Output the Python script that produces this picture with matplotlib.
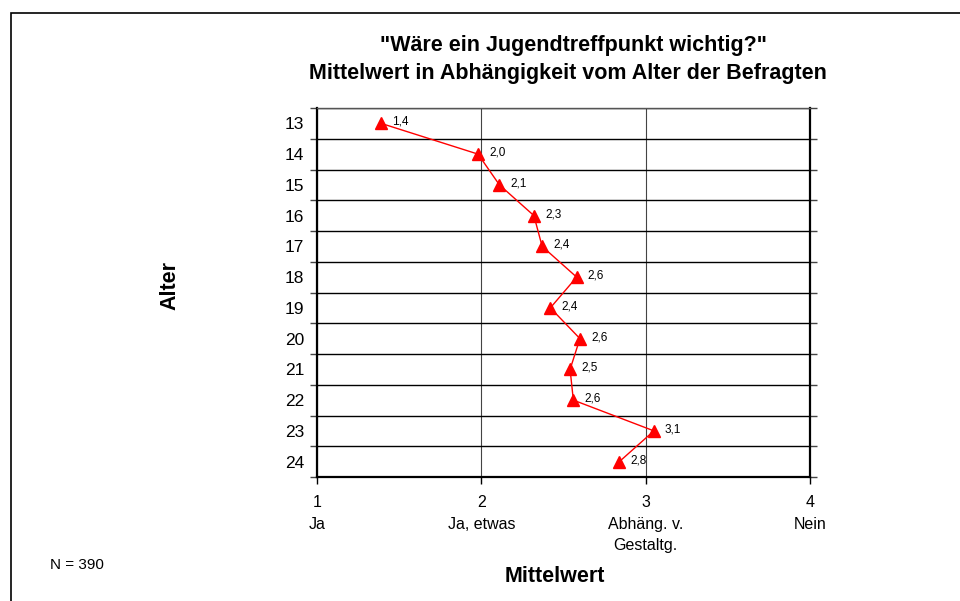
import matplotlib
matplotlib.use("Agg")
import matplotlib.pyplot as plt
from matplotlib.patches import Rectangle
import numpy as np

plt.rcParams['font.family'] = ['Liberation Sans', 'DejaVu Sans']

ages = ["13", "14", "15", "16", "17", "18", "19", "20", "21", "22", "23", "24"]
means = [1.39, 1.98, 2.11, 2.32, 2.37, 2.58, 2.42, 2.60, 2.54, 2.56, 3.05, 2.84]
value_labels = ["1,4", "2,0", "2,1", "2,3", "2,4", "2,6", "2,4", "2,6", "2,5", "2,6", "3,1", "2,8"]
x_ticks = [1, 2, 3, 4]
x_cat_names = ["Ja", "Ja, etwas", "Abhäng. v.\nGestaltg.", "Nein"]

W, H = 960, 601
fig = plt.figure(figsize=(W / 100, H / 100), dpi=100)
ax = fig.add_axes([317 / W, 1 - 477 / H, 493 / W, 369 / H])

y = np.arange(len(ages))
ax.plot(means, y, color="#ff0000", lw=1.0, marker="^", markersize=9,
        markerfacecolor="#ff0000", markeredgecolor="#ff0000", zorder=5, clip_on=False)
for xv, yv, lab in zip(means, y, value_labels):
    ax.annotate(lab, (xv, yv), xytext=(8, 1), textcoords="offset points",
                fontsize=8.5, va="center", ha="left", zorder=6)

ax.set_xlim(1, 4)
ax.set_ylim(len(ages) - 0.5, -0.5)

ax.set_yticks(y)
ax.set_yticklabels(ages, fontsize=12.5)
ax.set_yticks(np.arange(-0.5, len(ages)), minor=True)
ax.tick_params(axis="y", which="major", length=0, pad=9)
ax.tick_params(axis="y", which="minor", length=5, width=1, direction="out",
               left=True, right=True, color="#444444")
ax.grid(axis="y", which="minor", color="black", lw=1.0)

ax.set_xticks(x_ticks)
ax.set_xticklabels([str(t) for t in x_ticks], fontsize=11.5)
ax.tick_params(axis="x", which="major", length=5, width=1, direction="out", pad=8)
ax.grid(axis="x", which="major", color="#444444", lw=0.8)
for xt, nm in zip(x_ticks, x_cat_names):
    ax.annotate(nm, (xt, 0), xycoords=ax.get_xaxis_transform(),
                xytext=(0, -29), textcoords="offset points", ha="center",
                va="top", fontsize=11.5, linespacing=1.45, annotation_clip=False)

for s in ["left", "right", "bottom"]:
    ax.spines[s].set_linewidth(1.6)
    ax.spines[s].set_color("black")
ax.spines["top"].set_linewidth(1.0)
ax.spines["top"].set_color("#555555")
ax.set_axisbelow(True)

fig.text(573 / W, 1 - 45 / H, "\"Wäre ein Jugendtreffpunkt wichtig?\"", ha="center",
         va="center", fontsize=15.5, fontweight="bold")
fig.text(568 / W, 1 - 73 / H, "Mittelwert in Abhängigkeit vom Alter der Befragten",
         ha="center", va="center", fontsize=15.5, fontweight="bold")
fig.text(170 / W, 1 - 286 / H, "Alter", rotation=90, ha="center", va="center",
         fontsize=15.5, fontweight="bold")
fig.text(555 / W, 1 - 577 / H, "Mittelwert", ha="center", va="center",
         fontsize=15.5, fontweight="bold")
fig.text(50 / W, 1 - 565 / H, "N = 390", ha="left", va="center", fontsize=11)

fig.patches.append(Rectangle((10.5 / W, -0.1), 2, 1.1 - 12.5 / H,
                             transform=fig.transFigure, fill=False,
                             edgecolor="black", lw=1.2))

fig.savefig("out.png", dpi=100)
